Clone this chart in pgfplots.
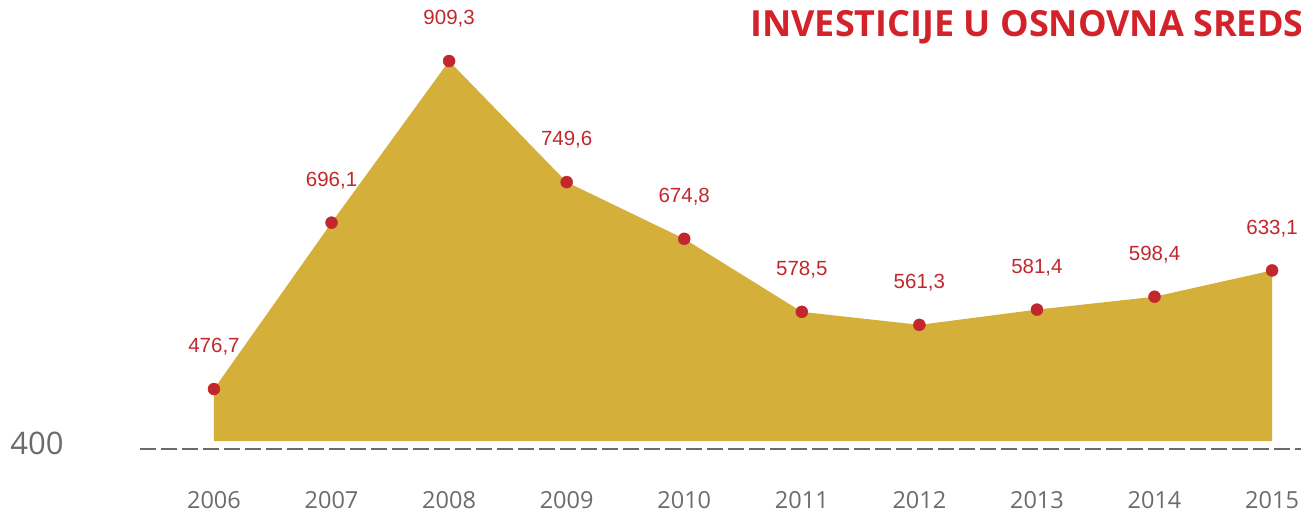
\documentclass[border=0pt]{standalone}
\usepackage{pgfplots}
\pgfplotsset{compat=1.18}
\usepackage{fontspec}
\setmainfont{Liberation Sans}
\newfontfamily\titlefont{Open Sans}
\definecolor{gold}{HTML}{D4AF3A}
\definecolor{dotred}{HTML}{C1272D}
\definecolor{titlered}{HTML}{D2232A}
\definecolor{axgray}{HTML}{6B6B6B}

\begin{document}
\begin{tikzpicture}
\begin{axis}[
    width=1301pt, height=516pt, scale only axis,
    hide axis, clip=false,
    xmin=2004.180, xmax=2015.246,
    ymin=309.2, ymax=989.8,
    ]
    % filled area
    \addplot[fill=gold, draw=none] coordinates {
        (2006,408) (2006,476.7) (2007,696.1) (2008,909.3) (2009,749.6)
        (2010,674.8) (2011,578.5) (2012,561.3) (2013,581.4) (2014,598.4)
        (2015,633.1) (2015,408)
    } -- cycle;

    % baseline at 400
    \addplot[axgray, line width=2pt, dash pattern=on 16pt off 5pt] coordinates {
        (2005.371,397.5) (2015.246,397.5)
    };

    % points with value labels
    \addplot[only marks, mark=*, mark size=6pt, dotred,
        nodes near coords,
        every node near coord/.append style={font=\fontsize{20.5}{24}\selectfont, text=dotred, anchor=center, yshift=42pt},
        /pgf/number format/.cd, fixed, fixed zerofill, precision=1, use comma, assume math mode=true
        ] coordinates {
        (2006,476.7) (2007,696.1) (2008,909.3) (2009,749.6) (2010,674.8)
        (2011,578.5) (2012,561.3) (2013,581.4) (2014,598.4) (2015,633.1)
    };

    % year labels
    \foreach \yr in {2006,...,2015} {
        \edef\temp{\noexpand\node[font=\noexpand\titlefont\noexpand\fontsize{23.5}{28}\noexpand\selectfont, text=axgray] at (axis cs:\yr,330.3) {\yr};}
        \temp
    }
    \node[font=\titlefont\fontsize{31}{36}\selectfont, text=axgray] at (axis cs:2004.495,405.5) {400};

    % title (cut off at the right edge as in the source)
    \node[font=\titlefont\bfseries\fontsize{36}{40}\selectfont, text=titlered, anchor=west, inner sep=0pt] at (axis cs:2010.56,954.1) {INVESTICIJE U OSNOVNA SREDSTVA};
\end{axis}
\pgfresetboundingbox
\path[use as bounding box] (current axis.south west) rectangle (current axis.north east);
\end{tikzpicture}
\end{document}
